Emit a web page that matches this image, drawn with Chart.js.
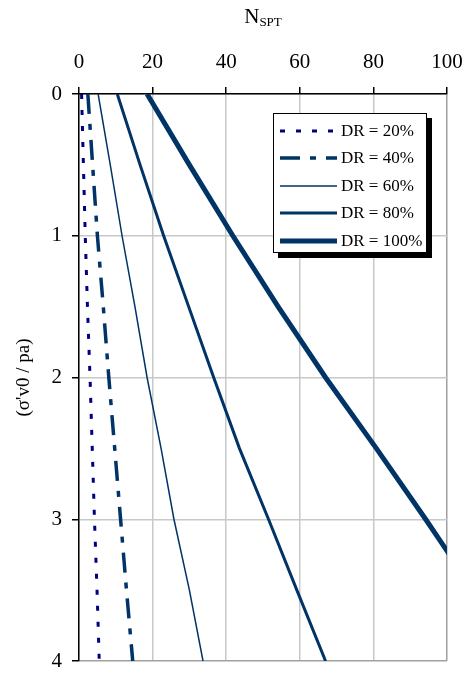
<!DOCTYPE html>
<html>
<head>
<meta charset="utf-8">
<script src="https://cdn.jsdelivr.net/npm/chart.js@4"></script>
<style>
  body { margin: 0; background: #fff; }
  #wrap { position: relative; width: 467px; height: 677px; }
  #xTitle {
    position: absolute; left: 0; width: 526px; top: 4px; text-align: center;
    font-family: 'Liberation Serif', serif; font-size: 21px; color: #000;
  }
  #xTitle sub { font-size: 13px; vertical-align: -3px; }
  #legend {
    position: absolute; left: 273px; top: 113px; width: 152px; height: 138px;
    border: 1px solid #000; background: #fff; box-shadow: 5px 5px 0 #000;
    font-family: 'Liberation Serif', serif; font-size: 17px; color: #000;
  }
  .row { position: absolute; left: 0; height: 20px; width: 152px; }
  .row svg { position: absolute; left: 6px; top: 5px; }
  .row span { position: absolute; left: 67px; top: 0; line-height: 20px; white-space: nowrap; }
</style>
</head>
<body>
<div id="wrap">
  <canvas id="chart" width="467" height="677"></canvas>
  <div id="xTitle">N<sub>SPT</sub></div>
  <div id="legend"></div>
</div>
<script>
// normalised vertical stress (sigma'v0 / pa)
const depth = [0, 0.5, 1, 1.5, 2, 2.5, 3, 3.5, 4];

// N_SPT for each relative density
const nDr20 = [0.7, 1.2, 1.7, 2.3, 3.0, 3.6, 4.2, 4.9, 5.5];
const nDr40 = [2.4, 3.7, 5.0, 6.6, 8.1, 9.7, 11.3, 12.9, 14.6];
const nDr60 = [5.2, 8.5, 11.7, 15.2, 18.5, 22.3, 25.8, 30.0, 33.7];
const nDr80 = [10.4, 16.6, 23.0, 29.8, 36.6, 43.6, 51.5, 59.2, 67.0];
const nDr100 = [18.5, 30.0, 41.8, 54.1, 67.0, 80.8, 94.2, 107.2, 120.3];

const labels = ['DR = 20%', 'DR = 40%', 'DR = 60%', 'DR = 80%', 'DR = 100%'];
const xTicks = [0, 20, 40, 60, 80, 100];
const yTicks = [0, 1, 2, 3, 4];

const FONT = 'Liberation Serif';
const DARK = '#003366';

const styles = [
    { color: '#000080', width: 3, dash: [5, 11] },
    { color: DARK, width: 3.5, dash: [20, 10, 6, 10] },
    { color: DARK, width: 1.5, dash: [] },
    { color: DARK, width: 3, dash: [] },
    { color: DARK, width: 5, dash: [] }
];

const series = [nDr20, nDr40, nDr60, nDr80, nDr100];

const datasets = series.map((vals, i) => ({
    label: labels[i],
    data: vals.map((n, j) => ({ x: n, y: depth[j] })),
    showLine: true,
    borderColor: styles[i].color,
    borderWidth: styles[i].width,
    borderDash: styles[i].dash,
    pointRadius: 0,
    tension: 0,
    clip: 0
}));

const gridColor = (edge) => (ctx) => (ctx.tick && ctx.tick.value === edge) ? '#a0a0a0' : '#c8c8c8';

new Chart(document.getElementById('chart'), {
    type: 'scatter',
    data: { datasets },
    options: {
        responsive: false,
        animation: false,
        layout: { padding: { top: 0, left: 0, right: 20, bottom: 16 } },
        plugins: { legend: { display: false }, tooltip: { enabled: false } },
        scales: {
            x: {
                type: 'linear',
                position: 'top',
                min: 0, max: 100,
                afterBuildTicks: (s) => { s.ticks = xTicks.map(v => ({ value: v })); },
                afterFit: (s) => { s.height = 94; s.paddingLeft = 0; s.paddingRight = 0; },
                ticks: { font: { family: FONT, size: 21 }, color: '#000', padding: 12, maxRotation: 0 },
                grid: { color: gridColor(100), lineWidth: 1.5, tickColor: '#000', tickLength: 7 },
                border: { color: '#000', width: 1.5 }
            },
            y: {
                type: 'linear',
                reverse: true,
                min: 0, max: 4,
                afterBuildTicks: (s) => { s.ticks = yTicks.map(v => ({ value: v })); },
                afterFit: (s) => { s.width = 79; s.paddingTop = 0; s.paddingBottom = 0; },
                ticks: { font: { family: FONT, size: 21 }, color: '#000', padding: 10 },
                grid: { color: gridColor(4), lineWidth: 1.5, tickColor: '#000', tickLength: 7 },
                border: { color: '#000', width: 1.5 },
                title: {
                    display: true,
                    text: "(σ'v0 / pa)",
                    font: { family: FONT, size: 19 },
                    color: '#000',
                    padding: { top: 13, bottom: 0 }
                }
            }
        }
    }
});

// legend box with drop shadow
const legend = document.getElementById('legend');
const rowTops = [7, 34, 62, 89, 117];
labels.forEach((lab, i) => {
    const row = document.createElement('div');
    row.className = 'row';
    row.style.top = rowTops[i] + 'px';
    const st = styles[i];
    row.innerHTML =
        '<svg width="58" height="10"><line x1="0" y1="5" x2="57" y2="5" stroke="' + st.color +
        '" stroke-width="' + st.width + '" stroke-dasharray="' + (st.dash.length ? st.dash.join(' ') : 'none') +
        '"/></svg><span>' + lab + '</span>';
    legend.appendChild(row);
});
</script>
</body>
</html>
